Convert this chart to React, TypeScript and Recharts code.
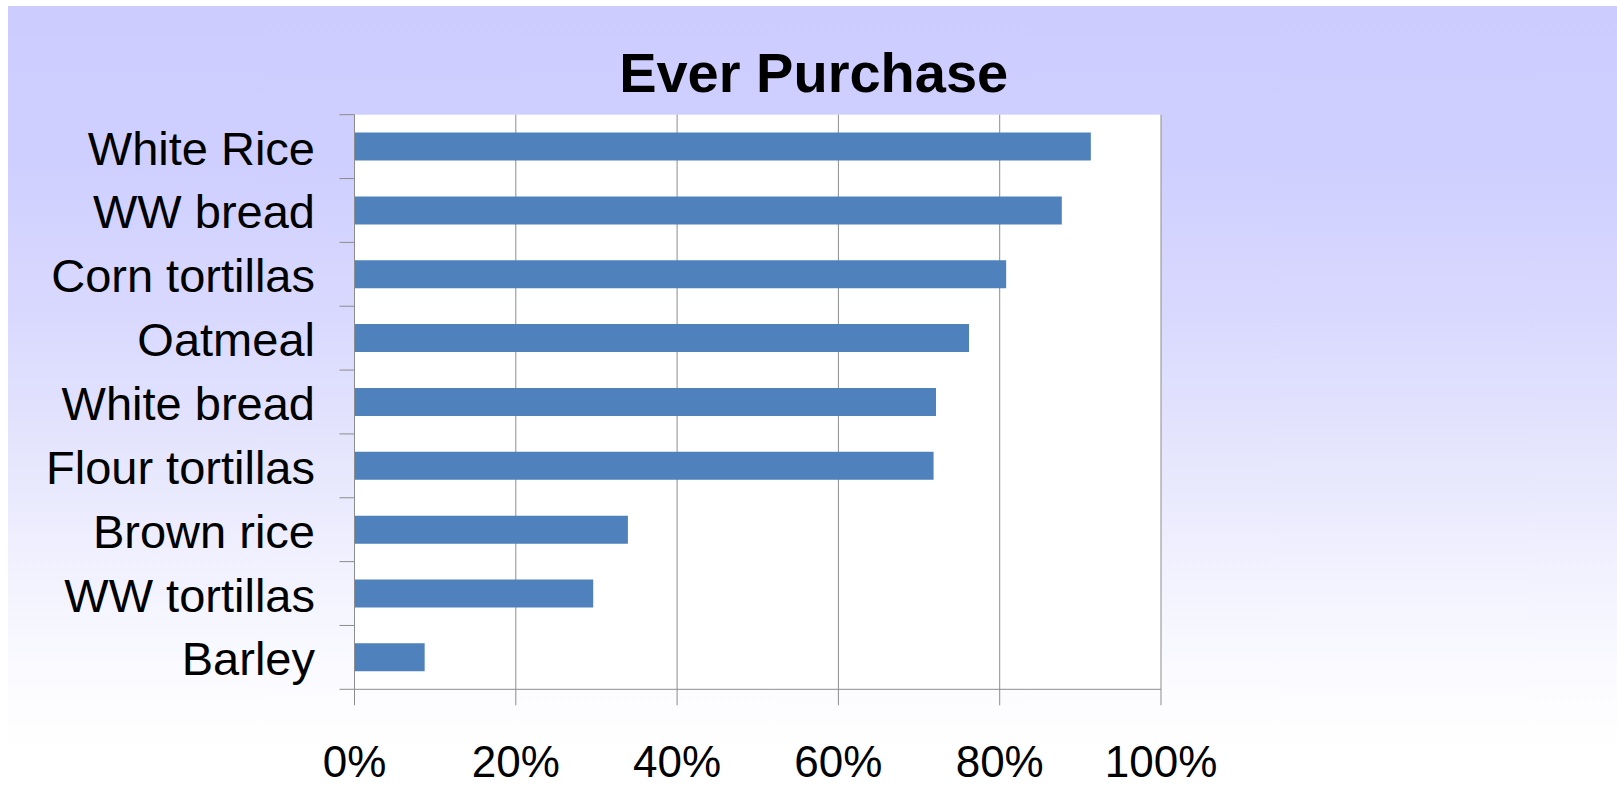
import React from "react";
import { BarChart, Bar, XAxis, YAxis, CartesianGrid } from "recharts";

const categories = [
  "White Rice",
  "WW bread",
  "Corn tortillas",
  "Oatmeal",
  "White bread",
  "Flour tortillas",
  "Brown rice",
  "WW tortillas",
  "Barley",
];
const everPurchase = [91.3, 87.7, 80.8, 76.2, 72.1, 71.8, 33.9, 29.6, 8.7];
const xTicks = [0, 20, 40, 60, 80, 100];
const title = "Ever Purchase";

const data = categories.map((name, i) => ({ name, value: everPurchase[i] }));

const FONT = "'Liberation Sans', Arial, Helvetica, sans-serif";
const Y_TICK_SIZE = 15;
const Y_TICK_MARGIN = 24.5;
const AXIS_COLOR = "#8c8c8c";
const W = 1609;
const H = 780;
const MARGIN = { top: 108.7, right: 456, left: 0, bottom: 0 };
const Y_AXIS_W = 346.5;
const X_AXIS_H = 96.7;

const YTick = (props: any) => {
  const { x, y, payload, index } = props;
  const plotH = H - MARGIN.top - X_AXIS_H;
  const half =
    payload && typeof payload.offset === "number" && payload.offset > 0
      ? payload.offset
      : plotH / categories.length / 2;
  const x1 = x + Y_TICK_MARGIN;
  const x2 = x1 + Y_TICK_SIZE;
  const isLast = index === categories.length - 1;
  return (
    <g>
      <line x1={x1} x2={x2} y1={y - half} y2={y - half} stroke={AXIS_COLOR} strokeWidth={1} />
      {isLast && (
        <line x1={x1} x2={x2} y1={y + half} y2={y + half} stroke={AXIS_COLOR} strokeWidth={1} />
      )}
      <text
        x={x}
        y={y}
        dy={18}
        textAnchor="end"
        fontSize={47}
        fontFamily={FONT}
        fill="#000"
      >
        {payload.value}
      </text>
    </g>
  );
};

export default function App() {
  return (
    <div
      style={{
        position: "fixed",
        left: 8,
        top: 6,
        width: W,
        height: H,
        background:
          "linear-gradient(to bottom, #CCCCFF 0%, #CFCFFF 20%, #D9D9FF 40%, #E6E6FD 58%, #F4F4FF 76%, #FCFCFF 88%, #FFFFFF 96%)",
      }}
    >
      <BarChart
        width={W}
        height={H}
        data={data}
        layout="vertical"
        margin={MARGIN}
        barCategoryGap="28%"
      >
        <CartesianGrid
          horizontal={false}
          vertical={true}
          fill="#ffffff"
          stroke={AXIS_COLOR}
          strokeWidth={1}
        />
        <XAxis
          type="number"
          domain={[0, 100]}
          ticks={xTicks}
          interval={0}
          tickFormatter={(v: number) => `${v}%`}
          height={X_AXIS_H}
          tickSize={16}
          tickMargin={40}
          axisLine={{ stroke: AXIS_COLOR }}
          tickLine={{ stroke: AXIS_COLOR }}
          tick={{ fontSize: 44, fill: "#000", fontFamily: FONT }}
        />
        <YAxis
          type="category"
          dataKey="name"
          width={Y_AXIS_W}
          interval={0}
          tickSize={Y_TICK_SIZE}
          tickMargin={Y_TICK_MARGIN}
          tickLine={false}
          axisLine={{ stroke: AXIS_COLOR }}
          tick={<YTick />}
        />
        <Bar dataKey="value" fill="#4F81BD" isAnimationActive={false} />
      </BarChart>
      <svg
        width={W}
        height={120}
        style={{ position: "absolute", left: 0, top: 0, pointerEvents: "none" }}
      >
        <text
          x={805.7}
          y={86}
          textAnchor="middle"
          fontSize={56}
          fontWeight="bold"
          fontFamily={FONT}
          fill="#000"
        >
          {title}
        </text>
      </svg>
    </div>
  );
}
